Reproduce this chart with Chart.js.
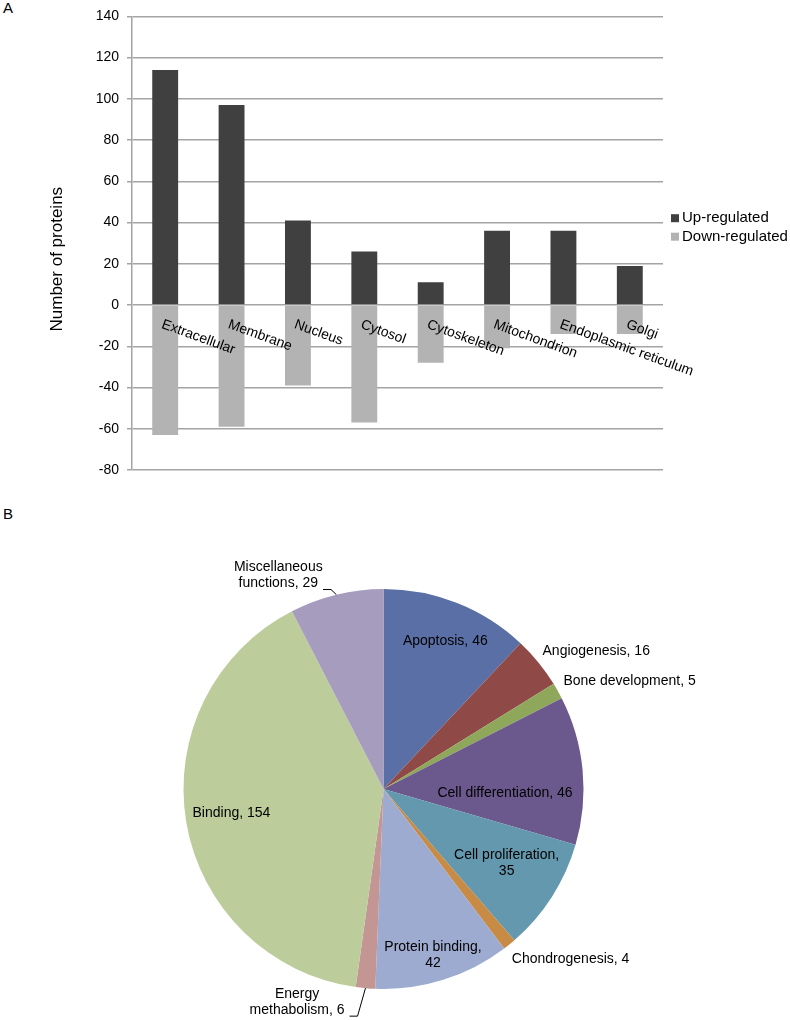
<!DOCTYPE html>
<html>
<head>
<meta charset="utf-8">
<script src="https://cdn.jsdelivr.net/npm/chart.js@4.4.1/dist/chart.umd.min.js"></script>
<style>
  body { margin: 0; background: #fff; font-family: "Liberation Sans", Arial, Helvetica, sans-serif; }
  #wrap { position: relative; width: 790px; height: 1020px; overflow: hidden; }
  canvas { position: absolute; left: 0; }
  .panel { position: absolute; left: 3px; font-size: 15px; color: #000; }
</style>
</head>
<body>
<div id="wrap">
  <div class="panel" style="top:-1px">A</div>
  <canvas id="bars" width="790" height="500" style="top:0"></canvas>
  <div class="panel" style="top:505px">B</div>
  <canvas id="pie" width="790" height="510" style="top:510px"></canvas>
</div>
<script>
// Panel A: subcellular location of up/down regulated proteins
const compartments = ["Extracellular", "Membrane", "Nucleus", "Cytosol", "Cytoskeleton",
  "Mitochondrion", "Endoplasmic reticulum", "Golgi"];
const upRegulated = [114, 97, 41, 26, 11, 36, 36, 19];
const downRegulated = [-63, -59, -39, -57, -28, -21, -14, -14];
const yMin = -80, yMax = 140, yStep = 20;
const yTitle = "Number of proteins";

// Panel B: biological function
const functions = ["Apoptosis", "Angiogenesis", "Bone development", "Cell differentiation",
  "Cell proliferation", "Chondrogenesis", "Protein binding", "Energy methabolism",
  "Binding", "Miscellaneous functions"];
const functionCounts = [46, 16, 5, 46, 35, 4, 42, 6, 154, 29];

// styling
const FONT = '"Liberation Sans", Arial, Helvetica, sans-serif';
const GRID = "#a4a4a4";
const pieColors = ["#5a6fa5", "#8f4a47", "#8fa75a", "#6b598e", "#6398ae",
  "#c78b45", "#9eabd1", "#c39694", "#bdcc9b", "#a69cbe"];
// label placement per slice: angle shift (deg), radius factor, alignment, line split
const pieLabelPlace = [
  { da: 1.1, rf: 0.80 },
  { da: -1.6, rf: 1.051, align: "left" },
  { da: -1.6, rf: 1.049, align: "left" },
  { da: 7.3, rf: 0.608 },
  { da: -1.7, rf: 0.718, split: "comma" },
  { da: 2.0, rf: 1.066, align: "left" },
  { da: 0.8, rf: 0.866, split: "comma" },
  { da: 16.9, rf: 1.15, split: "word", leader: true },
  { da: 0.5, rf: 0.77 },
  { da: -12.6, rf: 1.19, split: "word", leader: true },
];

Chart.defaults.font.family = FONT;
Chart.defaults.color = "#000";
Chart.defaults.animation = false;

const rad = (d) => d * Math.PI / 180;

// category names written slanted just under the zero line
const zeroLabels = {
  id: "zeroLabels",
  afterDatasetsDraw(chart) {
    const { ctx, scales: { x, y } } = chart;
    const zy = y.getPixelForValue(0);
    ctx.save();
    ctx.font = "14px " + FONT;
    ctx.fillStyle = "#000";
    ctx.textAlign = "left";
    ctx.textBaseline = "middle";
    chart.data.labels.forEach((lab, i) => {
      ctx.save();
      ctx.translate(x.getPixelForValue(i) - 3, zy + 19);
      ctx.rotate(rad(20));
      ctx.fillText(lab, 0, 0);
      ctx.restore();
    });
    ctx.restore();
  },
};

// y title + legend, Excel-like placement
const sideText = {
  id: "sideText",
  afterDraw(chart) {
    const { ctx, chartArea } = chart;
    ctx.save();
    ctx.font = "17px " + FONT;
    ctx.fillStyle = "#000";
    ctx.textAlign = "center";
    ctx.textBaseline = "middle";
    ctx.translate(57.5, (chartArea.top + chartArea.bottom) / 2 + 16);
    ctx.rotate(-Math.PI / 2);
    ctx.fillText(yTitle, 0, 0);
    ctx.restore();

    ctx.save();
    ctx.font = "15px " + FONT;
    ctx.textAlign = "left";
    ctx.textBaseline = "middle";
    const lx = chartArea.right + 8;
    let ly = (chartArea.top + chartArea.bottom) / 2 - 25;
    chart.data.datasets.forEach((ds) => {
      ctx.fillStyle = ds.backgroundColor;
      ctx.fillRect(lx, ly - 4, 8, 8);
      ctx.fillStyle = "#000";
      ctx.fillText(ds.label, lx + 11, ly);
      ly += 18.5;
    });
    ctx.restore();
  },
};

new Chart(document.getElementById("bars"), {
  type: "bar",
  data: {
    labels: compartments,
    datasets: [
      { label: "Up-regulated", data: upRegulated, backgroundColor: "#404040" },
      { label: "Down-regulated", data: downRegulated, backgroundColor: "#b3b3b3" },
    ],
  },
  options: {
    responsive: false,
    layout: { padding: { top: 15, right: 127, bottom: 30, left: 0 } },
    datasets: { bar: { categoryPercentage: 1, barPercentage: 0.39 } },
    plugins: { legend: { display: false }, tooltip: { enabled: false } },
    scales: {
      x: { display: false, stacked: true, offset: true },
      y: {
        stacked: true,
        min: yMin, max: yMax,
        afterFit: (s) => { s.width = 132; },
        ticks: { stepSize: yStep, padding: 8, font: { size: 14 }, color: "#000" },
        grid: { color: GRID, lineWidth: 1.5, tickLength: 5 },
        border: { color: GRID, width: 1.5 },
      },
    },
  },
  plugins: [zeroLabels, sideText],
});

// slice labels, inside or outside, with short leader lines
const pieLabels = {
  id: "pieLabels",
  afterDatasetsDraw(chart) {
    const { ctx } = chart;
    const arcs = chart.getDatasetMeta(0).data;
    const values = chart.data.datasets[0].data;
    ctx.save();
    ctx.font = "14px " + FONT;
    ctx.fillStyle = "#000";
    ctx.strokeStyle = "#000";
    ctx.lineWidth = 1;
    ctx.textBaseline = "middle";
    arcs.forEach((arc, i) => {
      const p = pieLabelPlace[i];
      const text = chart.data.labels[i] + ", " + values[i];
      let lines = [text];
      if (p.split === "comma") {
        const k = text.lastIndexOf(", ");
        lines = [text.slice(0, k + 1), text.slice(k + 2)];
      } else if (p.split === "word") {
        const k = text.indexOf(" ");
        lines = [text.slice(0, k), text.slice(k + 1)];
      }
      const mid = (arc.startAngle + arc.endAngle) / 2;
      const a = mid + rad(p.da);
      const px = arc.x + Math.cos(a) * arc.outerRadius * p.rf;
      const py = arc.y + Math.sin(a) * arc.outerRadius * p.rf;
      const lh = 16;
      ctx.textAlign = p.align || "center";
      lines.forEach((ln, j) => {
        ctx.fillText(ln, px, py + (j - (lines.length - 1) / 2) * lh);
      });
      if (p.leader) {
        const last = lines[lines.length - 1];
        const right = px + ctx.measureText(last).width / 2;
        const ly = py + ((lines.length - 1) / 2) * lh + 6;
        const ex = arc.x + Math.cos(mid) * arc.outerRadius;
        const ey = arc.y + Math.sin(mid) * arc.outerRadius;
        ctx.beginPath();
        ctx.moveTo(right + 5, ly);
        ctx.lineTo(right + 13, ly);
        ctx.lineTo(ex, ey);
        ctx.stroke();
      }
    });
    ctx.restore();
  },
};

new Chart(document.getElementById("pie"), {
  type: "pie",
  data: {
    labels: functions,
    datasets: [{
      data: functionCounts,
      backgroundColor: pieColors,
      borderWidth: 0,
      offset: 0,
      hoverOffset: 0,
    }],
  },
  options: {
    responsive: false,
    layout: { padding: { top: 79, right: 206.5, bottom: 31, left: 183.5 } },
    plugins: { legend: { display: false }, tooltip: { enabled: false } },
  },
  plugins: [pieLabels],
});
</script>
</body>
</html>
